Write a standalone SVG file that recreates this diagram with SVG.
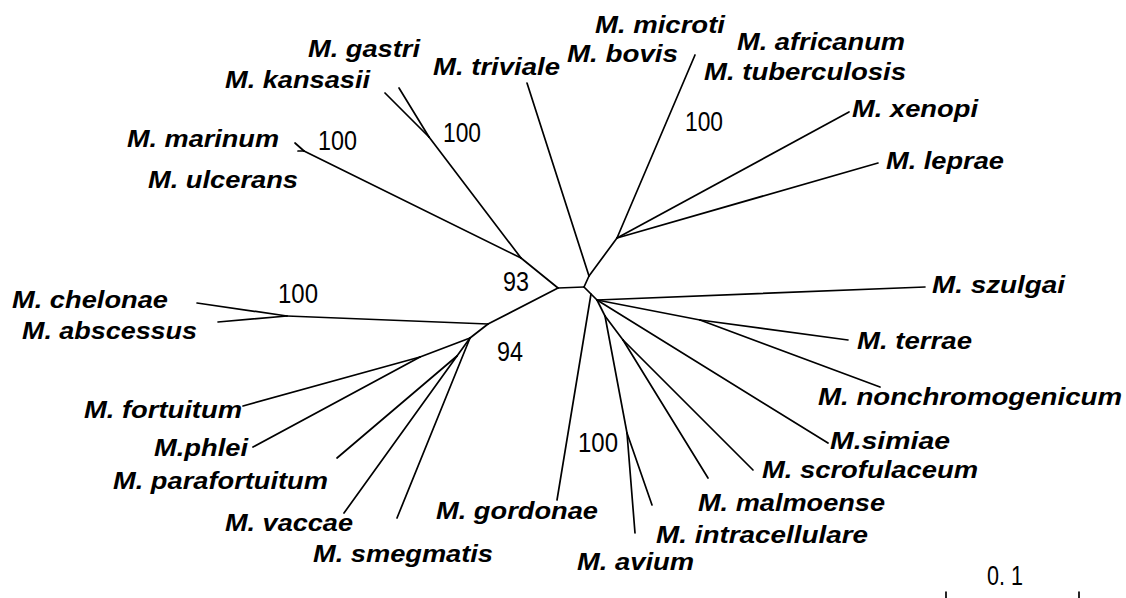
<svg xmlns="http://www.w3.org/2000/svg" width="1126" height="598" viewBox="0 0 1126 598">
<style>
.t{font-family:"Liberation Sans",Arial,sans-serif;font-size:23px;font-weight:bold;font-style:italic;fill:#000}
.n{font-family:"Liberation Sans",Arial,sans-serif;font-size:27px;fill:#000}
.b{stroke:#000;stroke-width:1.7;fill:none;stroke-linecap:round;stroke-linejoin:round}
</style>
<rect width="1126" height="598" fill="#fff"/>
<g id="connectors" class="b">
<line x1="558" y1="288" x2="584" y2="287"/>
<line x1="584" y1="287" x2="589" y2="276"/>
<line x1="589" y1="276" x2="527" y2="83"/>
<line x1="589" y1="276" x2="617" y2="238"/>
<line x1="617" y1="238" x2="695" y2="55"/>
<line x1="617" y1="238" x2="849" y2="112"/>
<line x1="617" y1="238" x2="878" y2="163"/>
<line x1="558" y1="288" x2="521" y2="258"/>
<line x1="521" y1="258" x2="429" y2="137"/>
<line x1="429" y1="137" x2="385" y2="93"/>
<line x1="429" y1="137" x2="399" y2="88"/>
<line x1="521" y1="258" x2="304" y2="151"/>
<line x1="304" y1="151" x2="295" y2="143"/>
<line x1="304" y1="151" x2="298" y2="151"/>
<line x1="558" y1="288" x2="488" y2="324"/>
<line x1="488" y1="324" x2="287" y2="316"/>
<line x1="287" y1="316" x2="197" y2="303"/>
<line x1="287" y1="316" x2="218" y2="322"/>
<line x1="488" y1="324" x2="470" y2="338"/>
<line x1="470" y1="338" x2="420" y2="357"/>
<line x1="420" y1="357" x2="243" y2="406"/>
<line x1="420" y1="357" x2="253" y2="447"/>
<line x1="470" y1="338" x2="457" y2="356"/>
<line x1="457" y1="356" x2="337" y2="458"/>
<line x1="457" y1="356" x2="344" y2="513"/>
<line x1="470" y1="338" x2="397" y2="518"/>
<line x1="584" y1="287" x2="597" y2="300"/>
<line x1="591" y1="294" x2="557" y2="500"/>
<line x1="597" y1="300" x2="925" y2="287"/>
<line x1="597" y1="300" x2="700" y2="320"/>
<line x1="700" y1="320" x2="848" y2="340"/>
<line x1="700" y1="320" x2="880" y2="387"/>
<line x1="597" y1="300" x2="828" y2="443"/>
<line x1="597" y1="300" x2="605" y2="316"/>
<line x1="605" y1="316" x2="627" y2="433"/>
<line x1="627" y1="433" x2="652" y2="505"/>
<line x1="627" y1="433" x2="635" y2="533"/>
<line x1="605" y1="316" x2="623" y2="340"/>
<line x1="623" y1="340" x2="753" y2="470"/>
<line x1="623" y1="340" x2="708" y2="478"/>
</g>
<g id="n-microti"><text class="t" x="595" y="33" textLength="130" lengthAdjust="spacingAndGlyphs">M. microti</text></g>
<g id="n-bovis"><text class="t" x="567" y="62" textLength="111" lengthAdjust="spacingAndGlyphs">M. bovis</text></g>
<g id="n-africanum"><text class="t" x="737" y="50" textLength="168" lengthAdjust="spacingAndGlyphs">M. africanum</text></g>
<g id="n-tuberculosis"><text class="t" x="704" y="80" textLength="202" lengthAdjust="spacingAndGlyphs">M. tuberculosis</text></g>
<g id="n-xenopi"><text class="t" x="852" y="117" textLength="126" lengthAdjust="spacingAndGlyphs">M. xenopi</text></g>
<g id="n-leprae"><text class="t" x="886" y="169" textLength="118" lengthAdjust="spacingAndGlyphs">M. leprae</text></g>
<g id="n-szulgai"><text class="t" x="932" y="293" textLength="133" lengthAdjust="spacingAndGlyphs">M. szulgai</text></g>
<g id="n-terrae"><text class="t" x="857" y="349" textLength="115" lengthAdjust="spacingAndGlyphs">M. terrae</text></g>
<g id="n-nonchromogenicum"><text class="t" x="818" y="405" textLength="304" lengthAdjust="spacingAndGlyphs">M. nonchromogenicum</text></g>
<g id="n-simiae"><text class="t" x="830" y="449" textLength="120" lengthAdjust="spacingAndGlyphs">M.simiae</text></g>
<g id="n-scrofulaceum"><text class="t" x="762" y="478" textLength="216" lengthAdjust="spacingAndGlyphs">M. scrofulaceum</text></g>
<g id="n-malmoense"><text class="t" x="698" y="511" textLength="187" lengthAdjust="spacingAndGlyphs">M. malmoense</text></g>
<g id="n-intracellulare"><text class="t" x="656" y="543" textLength="212" lengthAdjust="spacingAndGlyphs">M. intracellulare</text></g>
<g id="n-avium"><text class="t" x="577" y="570" textLength="117" lengthAdjust="spacingAndGlyphs">M. avium</text></g>
<g id="n-gordonae"><text class="t" x="436" y="519" textLength="162" lengthAdjust="spacingAndGlyphs">M. gordonae</text></g>
<g id="n-smegmatis"><text class="t" x="313" y="562" textLength="180" lengthAdjust="spacingAndGlyphs">M. smegmatis</text></g>
<g id="n-vaccae"><text class="t" x="225" y="531" textLength="128" lengthAdjust="spacingAndGlyphs">M. vaccae</text></g>
<g id="n-parafortuitum"><text class="t" x="113" y="489" textLength="215" lengthAdjust="spacingAndGlyphs">M. parafortuitum</text></g>
<g id="n-phlei"><text class="t" x="154" y="456" textLength="94" lengthAdjust="spacingAndGlyphs">M.phlei</text></g>
<g id="n-fortuitum"><text class="t" x="84" y="418" textLength="158" lengthAdjust="spacingAndGlyphs">M. fortuitum</text></g>
<g id="n-chelonae"><text class="t" x="12" y="308" textLength="156" lengthAdjust="spacingAndGlyphs">M. chelonae</text></g>
<g id="n-abscessus"><text class="t" x="22" y="339" textLength="175" lengthAdjust="spacingAndGlyphs">M. abscessus</text></g>
<g id="n-marinum"><text class="t" x="127" y="147" textLength="152" lengthAdjust="spacingAndGlyphs">M. marinum</text></g>
<g id="n-ulcerans"><text class="t" x="148" y="188" textLength="150" lengthAdjust="spacingAndGlyphs">M. ulcerans</text></g>
<g id="n-kansasii"><text class="t" x="225" y="88" textLength="145" lengthAdjust="spacingAndGlyphs">M. kansasii</text></g>
<g id="n-gastri"><text class="t" x="308" y="57" textLength="112" lengthAdjust="spacingAndGlyphs">M. gastri</text></g>
<g id="n-triviale"><text class="t" x="433" y="75" textLength="127" lengthAdjust="spacingAndGlyphs">M. triviale</text></g>
<g id="bootstrap">
<text class="n" x="318" y="150" textLength="39" lengthAdjust="spacingAndGlyphs">100</text>
<text class="n" x="443" y="142" textLength="38" lengthAdjust="spacingAndGlyphs">100</text>
<text class="n" x="685" y="131" textLength="38" lengthAdjust="spacingAndGlyphs">100</text>
<text class="n" x="503" y="291" textLength="26" lengthAdjust="spacingAndGlyphs">93</text>
<text class="n" x="497" y="361" textLength="26" lengthAdjust="spacingAndGlyphs">94</text>
<text class="n" x="278" y="303" textLength="40" lengthAdjust="spacingAndGlyphs">100</text>
<text class="n" x="578" y="452" textLength="40" lengthAdjust="spacingAndGlyphs">100</text>
</g>
<g id="scale">
<text class="n" x="987" y="585" textLength="36" lengthAdjust="spacingAndGlyphs">0. 1</text>
<line class="b" x1="946" y1="592" x2="946" y2="598"/>
<line class="b" x1="1079" y1="592" x2="1079" y2="598"/>
</g>
</svg>
